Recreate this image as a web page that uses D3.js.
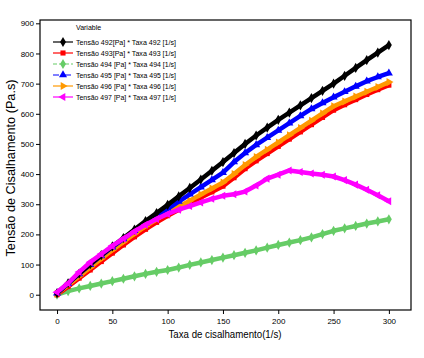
<!DOCTYPE html>
<html><head><meta charset="utf-8">
<script src="https://cdn.jsdelivr.net/npm/d3@7"></script>
<style>body{margin:0;background:#fff}svg{display:block}</style>
</head><body>
<svg id="c" width="424" height="358"></svg>
<script>
const shearRate = [0,10,20,30,40,50,60,70,80,90,100,110,120,130,140,150,160,170,180,190,200,210,220,230,240,250,260,270,280,290,300];
const tensao492 = [5,38,70,101,131,160,188,216,244,271,298,326,354,382,411,440,470,500,528,554,580,604,628,652,676,700,726,752,778,803,828];
const tensao493 = [0,27,55,82,110,138,165,192,217,240,262,282,302,322,341,360,388,418,444,468,492,516,540,564,588,612,630,647,664,680,695];
const tensao494 = [0,12,21,29,37,45,53,61,69,76,82,90,99,107,115,123,131,139,147,156,165,173,181,190,201,212,220,228,236,243,250];
const tensao495 = [5,37,69,100,129,158,185,212,237,261,285,309,333,357,381,405,440,470,497,521,545,569,593,616,636,655,673,691,708,722,735];
const tensao496 = [3,32,61,90,119,148,175,202,227,250,272,292,312,332,352,372,400,430,457,481,505,529,553,577,601,625,641,657,673,689,705];
const tensao497 = [8,38,75,108,135,162,186,210,232,251,268,282,294,306,318,328,333,342,362,385,398,412,407,402,398,392,380,365,348,330,310];
const seriesNames = ["Tensão 492[Pa] * Taxa 492 [1/s]","Tensão 493[Pa] * Taxa 493 [1/s]","Tensão 494 [Pa] * Taxa 494 [1/s]","Tensão 495 [Pa] * Taxa 495 [1/s]","Tensão 496 [Pa] * Taxa 496 [1/s]","Tensão 497 [Pa] * Taxa 497 [1/s]"];
const seriesColors = ["#000000","#ff0000","#66cc66","#0000ff","#ff9900","#ff00ff"];
const xTicks = [0,50,100,150,200,250,300];
const yTicks = [0,100,200,300,400,500,600,700,800,900];

const allValues = [tensao492,tensao493,tensao494,tensao495,tensao496,tensao497];
const markers = [
  {type:d3.symbolDiamond, rot:0, size:30},
  {type:d3.symbolSquare, rot:0, size:26},
  {type:d3.symbolDiamond, rot:0, size:30},
  {type:d3.symbolTriangle, rot:0, size:28},
  {type:d3.symbolTriangle, rot:90, size:28},
  {type:d3.symbolTriangle, rot:-90, size:28}
];
const dashes = [null,null,"4,2",null,null,null];
const legendDash = [null,null,"4,2","6,2,2,2",null,null];

const svg = d3.select("#c");
const L=40,R=411,T=20,B=310;
const x = d3.scaleLinear().domain([-15.4,320]).range([L,R]);
const y = d3.scaleLinear().domain([-50.7,911]).range([B,T]);
const font = "'Liberation Sans', Arial, sans-serif";

// axes
const gx = svg.append("g").attr("transform",`translate(0,${B})`)
  .call(d3.axisBottom(x).tickValues(xTicks).tickSize(4).tickSizeOuter(0).tickFormat(d3.format("d")));
const gy = svg.append("g").attr("transform",`translate(${L},0)`)
  .call(d3.axisLeft(y).tickValues(yTicks).tickSize(4).tickSizeOuter(0).tickFormat(d3.format("d")));
[gx,gy].forEach(g=>{
  g.select(".domain").remove();
  g.selectAll("line").attr("stroke","#000");
  g.selectAll("text").attr("font-family",font).attr("font-size",8).attr("fill","#000");
});
gx.selectAll("text").attr("dy","0.9em");
gy.selectAll("text").attr("x",-6);

// series
const line = d3.line().x((d,i)=>x(shearRate[i])).y(d=>y(d));
const order = [2,1,4,3,0,5];
order.forEach(s=>{
  const g = svg.append("g");
  g.append("path").datum(allValues[s]).attr("d",line).attr("fill","none")
    .attr("stroke",seriesColors[s]).attr("stroke-width",4.5).attr("stroke-linejoin","round");
  g.selectAll("path.m").data(allValues[s]).enter().append("path").attr("class","m")
    .attr("d",d3.symbol().type(markers[s].type).size(markers[s].size))
    .attr("transform",(d,i)=>`translate(${x(shearRate[i])},${y(d)}) rotate(${markers[s].rot})`)
    .attr("fill",seriesColors[s]);
});

// frame
svg.append("rect").attr("x",L).attr("y",T).attr("width",R-L).attr("height",B-T)
  .attr("fill","none").attr("stroke","#000").attr("stroke-width",1.2);

// legend
svg.append("text").attr("x",76).attr("y",30).attr("font-family",font).attr("font-size",7).text("Variable");
seriesNames.forEach((n,i)=>{
  const cy = 42 + i*11;
  svg.append("line").attr("x1",53).attr("x2",73).attr("y1",cy).attr("y2",cy)
    .attr("stroke",seriesColors[i]).attr("stroke-width",1.2).attr("stroke-dasharray",legendDash[i]);
  svg.append("path").attr("d",d3.symbol().type(markers[i].type).size(markers[i].size))
    .attr("transform",`translate(63,${cy}) rotate(${markers[i].rot})`).attr("fill",seriesColors[i]);
  svg.append("text").attr("x",76).attr("y",cy+2.5).attr("font-family",font).attr("font-size",7)
    .attr("textLength",100).attr("lengthAdjust","spacingAndGlyphs").text(n);
});

// axis titles
svg.append("text").attr("x",225).attr("y",338).attr("text-anchor","middle")
  .attr("font-family",font).attr("font-size",11).attr("textLength",113).attr("lengthAdjust","spacingAndGlyphs")
  .text("Taxa de cisalhamento(1/s)");
svg.append("text").attr("transform","translate(15,168) rotate(-90)").attr("text-anchor","middle")
  .attr("font-family",font).attr("font-size",12).attr("textLength",177).attr("lengthAdjust","spacingAndGlyphs")
  .text("Tensão de Cisalhamento (Pa.s)");
</script>
</body></html>
